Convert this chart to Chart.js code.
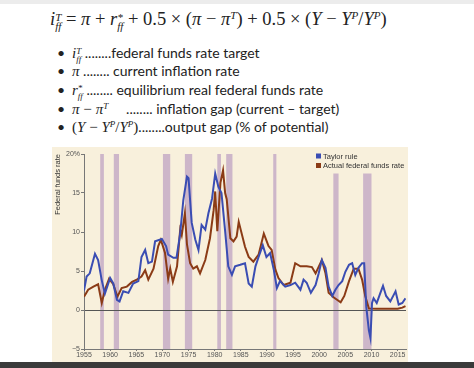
<!DOCTYPE html>
<html>
<head>
<meta charset="utf-8">
<script src="https://cdn.jsdelivr.net/npm/chart.js@4.4.0/dist/chart.umd.min.js"></script>
<style>
  html, body { margin: 0; padding: 0; background: #fff; }
  body { width: 474px; height: 368px; position: relative; overflow: hidden; }
  .topbar { position: absolute; left: 0; top: 0; width: 474px; height: 4px; background: #ececec; }
  .bottombar { position: absolute; left: 0; top: 362px; width: 474px; height: 6px; background: #3a3a3a; }
  .it { font-family: "Liberation Serif", serif; font-style: italic; }
  .up { font-family: "Liberation Serif", serif; font-style: normal; }
  .formula { position: absolute; left: 50px; top: 9px; font-size: 18.5px; color: #222; white-space: nowrap; }
  .ss { display: inline-block; vertical-align: -0.45em; line-height: 0.85; font-size: 0.6em; }
  .ss span { display: block; }
  .sup { font-size: 0.6em; vertical-align: 0.55em; }
  .item { position: absolute; left: 57px; font-family: Lato, "Open Sans", sans-serif; font-size: 14px; color: #222; white-space: nowrap; }
  .item .b { display: inline-block; width: 15px; }
  .item .mm { font-size: 15px; }
  #panel { position: absolute; left: 52px; top: 147px; width: 356px; height: 215px; background: #f8f0dc; }
</style>
</head>
<body>
<div class="topbar"></div>

<div class="formula">
  <span class="it">i</span><span class="ss it"><span>T</span><span>ff</span></span>
  <span class="up">=</span> <span class="it">π</span> <span class="up">+</span>
  <span class="it">r</span><span class="ss it"><span>*</span><span>ff</span></span>
  <span class="up">+ 0.5 × (</span><span class="it">π</span> <span class="up">−</span> <span class="it">π</span><span class="sup it">T</span><span class="up">) + 0.5 × (</span><span class="it">Y</span> <span class="up">−</span> <span class="it">Y</span><span class="sup it">P</span><span class="up">/</span><span class="it">Y</span><span class="sup it">P</span><span class="up">)</span>
</div>

<div class="item" style="top:43px"><span class="b">•</span><span class="mm"><span class="it">i</span><span class="ss it"><span>T</span><span>ff</span></span></span> ........federal funds rate target</div>
<div class="item" style="top:62px"><span class="b">•</span><span class="mm it">π</span> ........ current inflation rate</div>
<div class="item" style="top:80px"><span class="b">•</span><span class="mm"><span class="it">r</span><span class="ss it"><span>*</span><span>ff</span></span></span> ........ equilibrium real federal funds rate</div>
<div class="item" style="top:99px"><span class="b">•</span><span class="mm"><span class="it">π</span> <span class="up">−</span> <span class="it">π</span><span class="sup it">T</span></span> &nbsp;&nbsp;&nbsp; ........ inflation gap (current – target)</div>
<div class="item" style="top:117px"><span class="b">•</span><span class="mm"><span class="up">(</span><span class="it">Y</span> <span class="up">−</span> <span class="it">Y</span><span class="sup it">P</span><span class="up">/</span><span class="it">Y</span><span class="sup it">P</span><span class="up">)</span></span>........output gap (% of potential)</div>

<div id="panel"><canvas id="chart" width="356" height="215"></canvas></div>
<div class="bottombar"></div>

<script>
// Taylor rule (blue)
var taylorYears = [1955, 1955.5, 1956.1, 1957.1, 1957.7, 1958.4, 1959.0, 1960.0, 1960.6, 1961.3,
    1961.8, 1962.5, 1963.5, 1964.4, 1965.4, 1966.0, 1966.7, 1967.3, 1968.0, 1968.6,
    1969.9, 1970.7, 1971.1, 1972.1, 1972.7, 1973.4, 1974.0, 1974.7, 1975.0, 1975.6,
    1976.3, 1976.9, 1977.5, 1978.2, 1978.8, 1979.5, 1980.1, 1980.7, 1981.3, 1982.0,
    1982.6, 1983.3, 1983.9, 1984.9, 1985.8, 1986.5, 1987.1, 1987.8, 1988.4, 1989.2,
    1989.9, 1990.6, 1991.3, 1991.9, 1992.5, 1993.5, 1994.5, 1995.4, 1996.4, 1997.0,
    1997.6, 1998.4, 1999.3, 1999.9, 2000.5, 2001.2, 2001.8, 2002.5, 2003.1, 2003.7,
    2004.4, 2005.0, 2005.7, 2006.3, 2006.9, 2007.5, 2008.2, 2008.6, 2009.0, 2009.5,
    2009.8, 2010.1, 2010.4, 2011.0, 2011.7, 2012.2, 2012.8, 2013.6, 2014.3, 2014.6,
    2015.2, 2015.9, 2016.5];
var taylorRate = [2.5, 4.3, 4.7, 7.2, 6.4, 3.8, 2.1, 4.1, 3.4, 1.3,
    1.1, 2.4, 2.2, 3.4, 3.7, 6.8, 7.7, 6.0, 6.2, 8.8,
    9.1, 8.2, 7.1, 6.7, 6.7, 9.8, 14.1, 17.1, 16.9, 11.2,
    9.0, 7.7, 10.9, 10.3, 12.4, 14.3, 17.5, 15.8, 15.0, 10.1,
    5.6, 4.5, 5.6, 5.8, 6.0, 3.4, 3.0, 5.6, 6.8, 8.3,
    6.8, 7.3, 5.2, 2.8, 3.7, 3.0, 3.2, 3.5, 2.6, 3.9,
    3.5, 2.2, 3.2, 4.7, 6.4, 5.4, 3.0, 1.8, 2.6, 3.2,
    3.7, 4.9, 5.8, 6.0, 4.5, 5.4, 6.0, 6.0, 0.4, -2.6,
    -3.6, 0.9, 1.5, 0.9, 2.2, 3.1, 1.8, 1.1, 2.0, 2.4,
    0.7, 0.9, 1.5];

// actual federal funds rate (brown)
var fedYears = [1955, 1955.8, 1956.8, 1957.7, 1958.4, 1959.0, 1959.8, 1960.6, 1961.4, 1962.2,
    1963.2, 1964.2, 1965.1, 1966.0, 1966.7, 1967.3, 1968.3, 1969.2, 1969.7, 1970.5,
    1971.1, 1971.5, 1972.0, 1972.8, 1973.4, 1973.7, 1974.3, 1974.7, 1975.3, 1975.9,
    1976.6, 1977.2, 1978.2, 1979.1, 1979.8, 1980.1, 1980.5, 1981.1, 1981.6, 1982.0,
    1982.3, 1983.0, 1983.6, 1984.2, 1984.6, 1985.8, 1986.5, 1987.4, 1988.4, 1989.4,
    1990.3, 1990.9, 1991.6, 1992.2, 1993.2, 1994.5, 1995.4, 1996.4, 1997.6, 1998.6,
    1999.3, 2000.5, 2001.2, 2001.8, 2002.8, 2004.1, 2004.8, 2005.7, 2006.6, 2007.5,
    2008.2, 2008.8, 2009.5, 2011.0, 2013.0, 2015.0, 2015.9, 2016.5];
var fedRate = [1.7, 2.6, 3.0, 3.3, 0.9, 2.6, 4.0, 3.3, 1.7, 2.8,
    3.0, 3.6, 3.9, 4.3, 5.1, 3.9, 5.3, 8.2, 9.0, 7.3,
    4.0, 5.3, 3.6, 5.6, 10.3, 9.6, 12.4, 8.4, 6.0, 5.3,
    5.6, 4.7, 6.4, 9.2, 12.8, 15.2, 10.1, 16.3, 17.9, 15.0,
    14.2, 9.2, 8.8, 9.4, 11.3, 8.1, 6.8, 6.2, 7.1, 9.8,
    8.2, 7.7, 5.2, 4.1, 3.2, 3.5, 6.0, 5.6, 5.6, 5.5,
    4.7, 6.4, 4.7, 2.2, 1.6, 1.0, 1.8, 3.7, 5.3, 5.3,
    3.9, 1.8, 0.2, 0.15, 0.15, 0.15, 0.3, 0.5];

// recession shading
var recessionStart = [1958.1, 1960.7, 1970.1, 1974.3, 1980.5, 1982.2, 1991.2, 2002.7, 2008.4];
var recessionEnd   = [1958.8, 1961.7, 1971.5, 1975.7, 1981.2, 1983.4, 1991.8, 2003.7, 2010.0];
var recessionTop   = [20, 20, 20, 20, 20, 20, 20, 17.5, 17.5];

var xTicks = [1955, 1960, 1965, 1970, 1975, 1980, 1985, 1990, 1995, 2000, 2005, 2010, 2015];
var yTicks = [-5, 0, 5, 10, 15, 20];

function toPoints(xs, ys) {
    var pts = [];
    for (let i = 0; i < xs.length; i++) {
        pts.push({ x: xs[i], y: ys[i] });
    }
    return pts;
}

// draw recession bars behind everything
var recessionBars = {
    id: 'recessionBars',
    beforeDraw: function (chart) {
        var ctx = chart.ctx;
        var xs = chart.scales.x, ys = chart.scales.y;
        ctx.save();
        ctx.fillStyle = '#cdb6c9';
        for (let i = 0; i < recessionStart.length; i++) {
            var x0 = xs.getPixelForValue(recessionStart[i]);
            var x1 = xs.getPixelForValue(recessionEnd[i]);
            var y0 = ys.getPixelForValue(recessionTop[i]);
            var y1 = ys.getPixelForValue(-5);
            ctx.fillRect(x0, y0, x1 - x0, y1 - y0);
        }
        ctx.restore();
    }
};

// small legend in the upper right corner
var cornerLegend = {
    id: 'cornerLegend',
    afterDraw: function (chart) {
        var ctx = chart.ctx;
        var sets = chart.data.datasets;
        ctx.save();
        ctx.font = '7.5px "Liberation Sans", Arial, sans-serif';
        ctx.textBaseline = 'middle';
        for (let i = 0; i < sets.length; i++) {
            var y = 9 + i * 9.5;
            ctx.fillStyle = sets[i].borderColor;
            ctx.fillRect(264, y - 2.5, 5, 5);
            ctx.fillStyle = '#333';
            ctx.fillText(sets[i].label, 271, y + 0.5);
        }
        ctx.restore();
    }
};

var ctx = document.getElementById('chart').getContext('2d');
var chart = new Chart(ctx, {
    type: 'line',
    data: {
        datasets: [{
            label: 'Taylor rule',
            data: toPoints(taylorYears, taylorRate),
            borderColor: '#3a4db3',
            borderWidth: 2,
            pointRadius: 0,
            tension: 0
        }, {
            label: 'Actual federal funds rate',
            data: toPoints(fedYears, fedRate),
            borderColor: '#8b3b16',
            borderWidth: 2,
            pointRadius: 0,
            tension: 0
        }]
    },
    options: {
        responsive: false,
        animation: false,
        events: [],
        layout: { padding: { top: 7, right: 2, left: 0, bottom: 0 } },
        plugins: {
            legend: { display: false },
            tooltip: { enabled: false }
        },
        scales: {
            x: {
                type: 'linear',
                min: 1955,
                max: 2016.6,
                afterBuildTicks: function (scale) {
                    scale.ticks = xTicks.map(function (v) { return { value: v }; });
                },
                afterFit: function (scale) { scale.height = 13; },
                border: { color: '#777', width: 1 },
                grid: { drawOnChartArea: false, tickLength: 2, color: '#777' },
                ticks: {
                    color: '#555',
                    padding: 0,
                    maxRotation: 0,
                    autoSkip: false,
                    font: { size: 7, family: '"Liberation Sans", Arial, sans-serif' },
                    callback: function (v) { return String(v); }
                }
            },
            y: {
                min: -5,
                max: 20,
                afterBuildTicks: function (scale) {
                    scale.ticks = yTicks.map(function (v) { return { value: v }; });
                },
                afterFit: function (scale) { scale.width = 32; },
                border: { color: '#777', width: 1 },
                grid: {
                    tickLength: 3,
                    tickColor: '#777',
                    lineWidth: 1,
                    color: function (c) { return c.tick && c.tick.value === 0 ? '#555' : 'rgba(0,0,0,0)'; }
                },
                title: {
                    display: true,
                    text: 'Federal funds rate',
                    align: 'end',
                    color: '#333',
                    padding: { top: 1, bottom: 0 },
                    font: { size: 7.5, family: '"Liberation Sans", Arial, sans-serif' }
                },
                ticks: {
                    color: '#555',
                    padding: 1,
                    font: { size: 7, family: '"Liberation Sans", Arial, sans-serif' },
                    callback: function (v) {
                        if (v === 20) return '20%';
                        if (v < 0) return '\u2212' + Math.abs(v);
                        return String(v);
                    }
                }
            }
        }
    },
    plugins: [recessionBars, cornerLegend]
});
</script>
</body>
</html>
